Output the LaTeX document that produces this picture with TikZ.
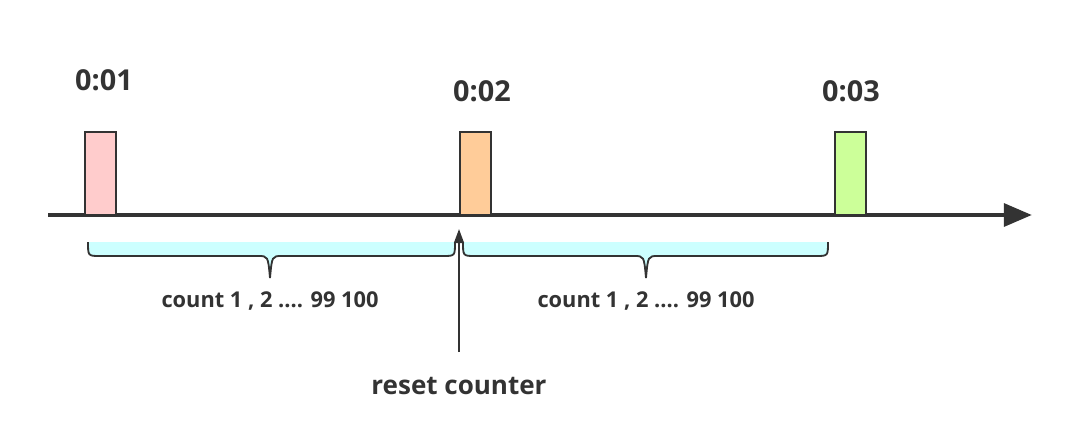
\documentclass[tikz,border=0pt]{standalone}
\usepackage{fontspec}
\setmainfont{Open Sans}
\usetikzlibrary{positioning,arrows.meta}

\definecolor{ink}{HTML}{333333}
\definecolor{pinkbar}{HTML}{FFCCCC}
\definecolor{orangebar}{HTML}{FFCC99}
\definecolor{greenbar}{HTML}{CCFF99}
\definecolor{bracefill}{HTML}{CCFFFF}

\begin{document}
\begin{tikzpicture}[
    x=0.025cm, y=-0.025cm,
    tick/.style={draw=ink, line width=1.4pt, anchor=south, minimum width=22pt, minimum height=59pt, inner sep=0pt},
    stamp/.style={text=ink, font=\fontsize{20.5}{24}\selectfont\bfseries},
    countlbl/.style={text=ink, font=\fontsize{15.5}{18}\selectfont\bfseries},
    axis/.style={-{Triangle[length=20pt, width=16pt]}, line width=3.4pt, draw=ink},
    pointer/.style={-{Triangle[length=10pt, width=7pt]}, line width=1.3pt, draw=ink}
]
\useasboundingbox (0,0) rectangle (1080,423);

% time axis
\coordinate (axstart) at (48,215);
\coordinate (axend) at (1032,215);

% braces under the axis
\foreach \a/\b/\m [count=\i] in {88/455/270, 463/828/646} {
  \fill[bracefill] (\a,242) .. controls (\a,256) .. (\a+12,256) -- (\m-12,256)
    .. controls (\m-2,256) .. (\m,278) .. controls (\m+2,256) .. (\m+12,256)
    -- (\b-12,256) .. controls (\b,256) .. (\b,242) -- cycle;
  \draw[ink, line width=1.3pt] (\a,242) .. controls (\a,256) .. (\a+12,256) -- (\m-12,256)
    .. controls (\m-2,256) .. (\m,278) .. controls (\m+2,256) .. (\m+12,256)
    -- (\b-12,256) .. controls (\b,256) .. (\b,242);
  \node[countlbl] (count\i) at (\m,301) {count 1 , 2 .... 99 100};
}

\draw[axis] (axstart) -- (axend);

% ticks
\node[tick, fill=pinkbar] (t1) at (100.5,216) {};
\node[tick, fill=orangebar] (t2) at (475.5,216) {};
\node[tick, fill=greenbar] (t3) at (850.5,216) {};

\node[stamp] (s1) at (104,80) {0:01};
\node[stamp] (s2) at (482,91) {0:02};
\node[stamp] (s3) at (851,91) {0:03};

% reset marker
\node[text=ink, font=\fontsize{18.5}{22}\selectfont\bfseries] (reset) at (459,386) {reset counter};
\coordinate (resetpt) at (459,229);
\draw[pointer] (459,352) -- (resetpt);
\end{tikzpicture}
\end{document}
